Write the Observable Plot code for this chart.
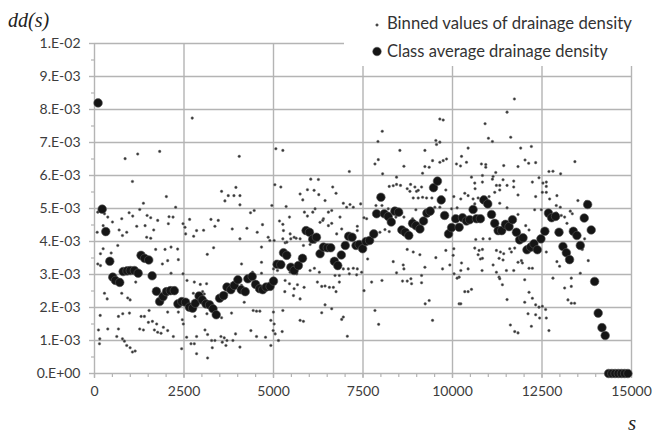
<!DOCTYPE html>
<html><head><meta charset="utf-8">
<script src="https://cdn.jsdelivr.net/npm/d3@7"></script>
<script src="https://cdn.jsdelivr.net/npm/@observablehq/plot@0.6"></script>
<style>
body{margin:0;background:#fff}
#chart{position:relative;width:654px;height:434px}
</style>
</head><body><div id="chart"></div>
<script>
// ---- axis ticks ----
const xTicks = [0, 2500, 5000, 7500, 10000, 12500, 15000];
const xTickLabels = ["0", "2500", "5000", "7500", "10000", "12500", "15000"];
const xMinor = d3.range(0, 15001, 500);
const yTicks = [0, 0.001, 0.002, 0.003, 0.004, 0.005, 0.006, 0.007, 0.008, 0.009, 0.01];
const yTickLabels = ["0.E+00", "1.E-03", "2.E-03", "3.E-03", "4.E-03", "5.E-03", "6.E-03", "7.E-03", "8.E-03", "9.E-03", "1.E-02"];
const yMinor = [0.0005, 0.0015, 0.0025, 0.0035, 0.0045, 0.0055, 0.0065, 0.0075, 0.0085, 0.0095];

// ---- class average drainage density: [s, dd(s) x 1e-3] ----
const classAvgA = [[100,8.2],[215,4.98],[315,4.30],[427,3.40],[510,2.92],[585,2.82],[705,2.76],[800,3.09],[910,3.11],[1000,3.12],[1115,3.12],[1220,3.04],[1300,3.58],[1400,3.49],[1515,3.44],[1610,2.96],[1730,2.49],[1820,2.18],[1915,2.33],[2010,2.48],[2120,2.51],[2230,2.51],[2330,2.11],[2440,2.18],[2545,2.16],[2650,2.01],[2740,1.98],[2815,2.13],[2920,2.35],[3010,2.23],[3115,2.11],[3215,2.08],[3310,1.96],[3400,1.78],[3495,2.28],[3605,2.36],[3700,2.62],[3810,2.54],[3905,2.67],[4005,2.84],[4100,2.54],[4210,2.48],[4285,2.87],[4405,2.94],[4500,2.70],[4610,2.57],[4700,2.54],[4795,2.62],[4905,2.64],[5000,2.80]];
const classAvgB = [[5100,3.31],[5205,3.30],[5280,3.66],[5370,3.58],[5485,3.22],[5575,3.12],[5695,3.27],[5810,3.49],[5910,4.33],[6005,4.28],[6095,4.07],[6200,4.13],[6300,3.63],[6395,3.83],[6505,3.81],[6600,3.81],[6700,3.40],[6795,3.27],[6895,3.59],[7005,3.88],[7100,4.16],[7195,4.13],[7305,3.88],[7395,3.91],[7490,3.78],[7585,4.00],[7685,4.03],[7800,4.23],[7880,4.84],[8000,5.34],[8095,4.84],[8205,4.76],[8290,4.59],[8390,4.92],[8495,4.89],[8585,4.35],[8680,4.28],[8780,4.18],[8885,4.55],[8980,4.48],[9090,4.38],[9190,4.62],[9285,4.86],[9375,4.92],[9470,5.63],[9580,5.83],[9685,5.26],[9780,4.79],[9890,4.23],[9975,4.42]];
const classAvgC = [[10090,4.69],[10185,4.43],[10280,4.72],[10390,4.62],[10480,4.66],[10575,4.97],[10670,4.69],[10780,4.69],[10875,5.26],[10985,5.14],[11090,4.82],[11180,4.55],[11275,4.33],[11375,4.33],[11480,4.52],[11580,4.45],[11675,4.66],[11785,4.28],[11875,4.05],[11970,4.11],[12080,3.75],[12185,3.83],[12275,3.93],[12370,3.75],[12470,4.08],[12580,4.31],[12680,4.86],[12770,4.72],[12880,4.76],[12975,4.28],[13085,3.85],[13180,3.66],[13270,3.45],[13375,4.31],[13475,4.18],[13570,3.88],[13680,4.71],[13775,5.12],[13875,4.35],[13970,2.79],[14070,1.83],[14175,1.39],[14265,1.15],[14360,0],[14450,0],[14540,0],[14630,0],[14720,0],[14810,0],[14900,0]];

// ---- binned values of drainage density: [s, dd(s) x 1e-3] ----
const binnedA = [[2730,7.74],[855,6.51],[1207,6.65],[1821,6.73],[4043,6.58],[5066,6.81],[1060,5.82],[5038,5.72],[2007,5.36],[1366,5.16],[2267,5.04],[3550,5.52],[3950,5.64],[3736,5.39],[3895,5.39],[4063,5.39],[3643,5.23],[4063,5.11],[4954,5.09],[92,4.89],[279,4.84],[371,4.74],[502,4.59],[761,4.69],[967,4.87],[1068,4.77],[1263,4.97],[1469,4.79],[1570,4.72],[1765,4.64],[2082,4.75],[2194,4.74],[2063,4.54],[2473,4.54],[2657,4.67],[2528,4.43],[3253,4.67],[3457,4.64],[3364,4.46],[3847,4.38],[2852,4.33],[3048,4.34],[4461,4.94],[4358,4.87],[4257,4.40],[4693,4.51],[4545,4.28],[4851,4.13],[1413,4.48],[1180,4.46],[1654,4.35],[688,4.35],[900,4.28],[242,4.48],[75,4.28],[1458,4.13],[1570,4.10],[4063,4.08],[2770,4.16],[2546,4.23],[781,4.18]];
const binnedB = [[650,3.88],[242,3.78],[167,3.63],[465,3.65],[92,3.32],[167,3.27],[1709,3.76],[1970,3.76],[2138,3.83],[2322,3.77],[2044,3.42],[1896,3.32],[2342,3.45],[2138,3.04],[2473,3.02],[1152,2.77],[761,2.43],[928,2.29],[995,2.23],[279,2.43],[354,2.26],[2584,2.82],[2788,2.77],[2955,2.70],[3131,2.72],[2760,2.43],[3020,2.48],[3067,2.41],[3150,3.61],[3327,3.81],[3532,2.36],[3689,2.41],[4107,3.32],[4107,2.67],[4182,2.16],[4414,3.07],[4665,3.04],[4665,3.37],[4898,4.03],[4665,3.83],[159,1.76],[669,1.73],[789,1.81],[976,1.83],[1302,1.73],[1394,1.73],[1525,1.91],[2044,1.86],[2342,1.86],[2807,1.73],[3141,1.81],[3550,1.69],[3828,1.83],[4433,1.91],[4526,1.89],[4619,1.89],[4926,1.61],[111,1.32],[371,1.35],[669,1.35],[1263,1.35],[1366,1.32],[1505,1.55],[1617,1.58],[1737,1.50],[1673,1.32],[1765,1.25],[1859,1.22],[1924,1.40],[2044,1.30],[2202,1.12],[2453,1.63],[2481,1.50],[2574,1.10],[2695,0.90],[2788,0.90],[2852,1.12],[3086,1.32],[3159,1.18],[3271,1.00],[3364,1.00],[3290,0.78],[3532,1.12],[3624,1.08],[3700,1.00],[3569,0.95],[3671,0.85],[3866,1.00],[3940,1.20],[4063,0.80],[4368,1.30],[4526,1.12],[4777,1.10],[4926,0.85],[4991,1.30],[2852,0.60],[3159,0.47],[2434,0.75],[900,0.85],[995,0.78],[1060,0.65],[1135,0.68],[622,1.12],[781,1.05],[836,0.98],[148,1.05],[139,0.90]];
const binnedC = [[5018,4.03],[5261,4.08],[5325,3.96],[5484,4.08],[5632,4.10],[5743,4.08],[5074,3.39],[5186,3.27],[5111,3.12],[5000,3.17],[5465,3.07],[5651,3.02],[5325,2.82],[5446,2.72],[5576,2.57],[5669,2.69],[5855,2.61],[5316,2.48],[5557,2.36],[5743,2.26],[6022,3.12],[6142,3.19],[6281,3.07],[6226,2.77],[6347,2.64],[6440,2.65],[6561,2.61],[6672,2.61],[6747,2.48],[6839,2.77],[6839,2.97],[6719,2.97],[6950,3.17],[7090,3.17],[7229,3.19],[7341,3.17],[7118,3.02],[7323,2.99],[7462,3.07],[7528,2.51],[7630,3.47],[7741,2.77],[8030,2.82],[7973,4.28],[8233,4.30],[8113,4.36],[8344,3.39],[8437,3.05],[8623,3.29],[8643,3.17],[8735,3.76],[8604,2.80],[8735,2.80],[8857,2.72],[8838,2.87],[8903,3.68],[9089,3.60],[9229,3.22],[9136,2.97],[9136,2.75],[9237,2.11],[9349,2.21],[9443,1.61],[9535,3.51],[9722,3.17],[9814,3.73],[9926,3.29],[10045,3.02],[10185,2.92],[10185,2.11],[7834,1.91],[7937,1.49],[6347,1.84],[6440,2.08],[6626,1.96],[5743,1.61],[5836,1.58],[6905,1.64],[6950,1.71],[7062,1.13],[5261,1.91],[5242,1.27],[5139,1.00],[5018,1.50],[5046,1.20],[4998,1.86],[6300,4.58],[6395,4.69],[6533,4.48],[6626,4.55],[6765,4.23],[6905,4.38],[7340,4.33],[5278,4.33],[5465,4.23],[5576,4.13],[5836,3.88],[6022,3.91],[6161,3.98],[5372,3.98]];
const binnedD = [[5261,6.76],[5205,5.65],[5353,5.06],[5167,4.62],[5261,4.52],[5446,4.74],[5743,5.44],[5818,5.26],[5948,5.57],[6134,5.55],[6265,5.42],[6041,5.89],[6254,5.88],[5864,4.89],[5948,4.77],[6097,4.89],[6161,4.99],[6376,4.64],[6440,5.24],[6533,4.89],[6626,4.94],[6654,5.65],[6747,5.46],[6858,4.74],[6950,5.16],[7044,5.04],[7137,5.12],[7229,5.04],[7435,5.14],[7118,6.12],[7341,4.46],[7528,4.72],[7602,4.69],[7834,6.35],[7927,6.48],[7918,7.03],[8038,7.34],[8048,6.05],[7862,5.09],[8030,5.09],[8233,5.67],[8344,5.69],[8437,5.73],[8548,5.70],[8437,5.95],[8530,6.76],[8643,6.28],[8735,5.60],[8810,5.52],[8950,5.65],[8996,5.52],[9042,5.55],[8829,5.73],[9136,5.65],[9164,5.34],[9164,6.07],[9229,6.76],[9229,6.27],[9349,6.25],[9443,6.45],[9535,7.06],[9554,6.94],[9647,7.01],[9647,7.71],[9740,7.68],[9740,6.45],[9833,6.50],[9647,6.40],[9814,5.56],[10037,5.36],[10111,6.35],[9973,4.99],[10129,5.02],[8903,5.32],[9042,5.32],[9276,5.32],[9424,5.32],[9507,5.04],[9647,5.04],[8205,4.99],[8252,4.53],[8419,4.74],[8578,4.86],[8643,4.74],[8885,4.69],[8977,4.96]];
const binnedE = [[11729,8.32],[11524,7.92],[10910,7.57],[11004,7.13],[11115,7.03],[11626,7.16],[10436,6.83],[11905,6.83],[12203,6.88],[10252,6.58],[10224,6.29],[10391,6.40],[10808,6.35],[10929,6.33],[10929,6.25],[11431,6.30],[11830,6.27],[12026,6.47],[12128,6.37],[12323,6.39],[13419,6.42],[11208,6.09],[11134,5.97],[11115,5.89],[10530,5.95],[10836,6.00],[10622,5.77],[10836,5.80],[10631,5.60],[11412,5.87],[11710,5.83],[11227,5.70],[11320,5.70],[11524,5.70],[11710,5.65],[11320,5.56],[11180,5.49],[12231,5.80],[12416,5.93],[12527,5.77],[12620,5.67],[12620,5.80],[12694,6.12],[12806,6.13],[13020,6.05],[12620,5.49],[12509,5.49],[11830,5.41],[12323,5.36],[12917,5.39],[12713,5.29],[12899,5.09],[13011,5.04],[13503,5.24],[13736,5.21],[13290,4.92],[13346,4.84],[12295,4.96],[12481,4.96],[10232,5.29],[10343,5.46],[10436,5.39],[10575,5.29],[10715,5.32],[10622,5.14],[11022,5.36],[11320,5.16],[11524,5.02],[11830,4.82],[12045,4.48],[12138,4.35],[12899,4.86],[13039,4.79],[13132,4.74],[13197,4.55]];
const binnedF = [[10037,3.78],[10018,3.58],[10252,3.35],[10232,3.12],[10436,3.17],[10129,2.89],[10343,2.48],[10436,2.48],[10530,2.55],[10232,2.11],[10622,3.80],[10743,3.73],[10836,3.76],[10715,3.60],[10780,3.47],[10836,3.49],[10650,4.06],[10854,4.08],[11041,4.08],[10826,3.12],[11134,3.29],[11227,3.07],[11301,2.92],[11394,2.69],[11320,2.87],[11227,3.73],[11338,3.68],[11431,3.63],[11301,3.49],[11412,3.44],[11506,3.12],[11710,3.12],[11830,3.37],[11599,3.78],[11738,3.80],[11645,3.68],[11924,3.42],[11952,3.35],[12138,3.19],[12231,3.19],[12017,2.84],[11524,2.24],[11617,1.47],[11738,1.27],[11830,1.23],[12203,1.43],[12017,2.16],[12138,2.46],[12231,2.28],[12110,1.81],[12323,2.08],[12416,2.01],[12509,2.04],[12601,1.94],[12434,1.68],[12323,1.78],[12620,1.68],[12694,1.30],[12620,3.68],[12806,2.89],[12917,3.39],[12992,3.25],[13132,2.59],[13318,2.64],[13318,2.89],[13225,2.23],[13318,2.13],[13411,2.13],[13569,3.04],[13792,3.42],[13625,3.76],[13690,4.08]];

const toRows = arr => arr.map(([s, v]) => ({s, dd: v * 1e-3}));
const binned = [binnedA, binnedB, binnedC, binnedD, binnedE, binnedF].flatMap(toRows);
const classAvg = [classAvgA, classAvgB, classAvgC].flatMap(toRows);

const gridColor = "#b4b4b4";
const textColor = "#3c3c3c";

const chart = Plot.plot({
  width: 654, height: 434,
  marginLeft: 94, marginRight: 23, marginTop: 43, marginBottom: 61,
  style: {fontFamily: "Lato, sans-serif", fontSize: "14px", color: textColor, background: "#fff", overflow: "visible"},
  x: {domain: [0, 15000], label: null},
  y: {domain: [0, 0.01], label: null},
  marks: [
    Plot.ruleY(yTicks, {stroke: gridColor, strokeWidth: 1.4}),
    Plot.ruleX(xTicks, {stroke: gridColor, strokeWidth: 1.4}),
    Plot.axisY(yMinor, {tickSize: 3, tickFormat: () => "", stroke: gridColor, strokeWidth: 1.2}),
    Plot.axisY(yTicks, {tickSize: 5, tickPadding: 9, stroke: gridColor, strokeWidth: 1.4,
      tickFormat: d => yTickLabels[yTicks.indexOf(d)], fill: textColor}),
    Plot.axisX(xMinor, {tickSize: 4, tickFormat: () => "", stroke: gridColor, strokeWidth: 1.2}),
    Plot.axisX(xTicks, {tickSize: 5, tickPadding: 8, stroke: gridColor, strokeWidth: 1.4,
      tickFormat: d => xTickLabels[xTicks.indexOf(d)], fill: textColor}),
    Plot.dot(binned, {x: "s", y: "dd", r: 1.3, fill: "#333", stroke: "#777", strokeWidth: 0.5}),
    Plot.dot(classAvg, {x: "s", y: "dd", r: 4.3, fill: "#151515", stroke: "#555", strokeWidth: 0.6})
  ]
});
document.getElementById("chart").append(chart);

// ---- annotations and legend ----
const svg = d3.select(chart);
const overlay = svg.append("g").attr("text-anchor", "start");
overlay.append("rect").attr("x", 344).attr("y", 0).attr("width", 310).attr("height", 66)
  .attr("fill", "#ffffff").style("fill", "#ffffff").attr("stroke", "none");
overlay.append("text").text("dd(s)").attr("x", 8).attr("y", 27)
  .attr("font-family", "'Liberation Serif', serif").attr("font-style", "italic")
  .attr("font-size", 20).attr("fill", "#222");
overlay.append("text").text("s").attr("x", 628).attr("y", 430)
  .attr("font-family", "'Liberation Serif', serif").attr("font-style", "italic")
  .attr("font-size", 21).attr("fill", "#222");

const legendItems = [
  {label: "Binned values of drainage density", r: 1.3, cy: 25, base: 29, w: 245},
  {label: "Class average drainage density", r: 4.3, cy: 51.5, base: 57, w: 221}
];
legendItems.forEach((it, i) => {
  overlay.append("circle").attr("cx", 377).attr("cy", it.cy).attr("r", it.r)
    .attr("fill", i ? "#151515" : "#333").attr("stroke", i ? "#555" : "#777").attr("stroke-width", 0.5);
  const t = overlay.append("text").text(it.label).attr("x", 387).attr("y", it.base)
    .attr("font-family", "Lato, sans-serif").attr("font-size", 17).attr("fill", "#333");
  const w = t.node().getComputedTextLength();
  if (w > 0) t.attr("font-size", 17 * it.w / w);
});
</script></body></html>
